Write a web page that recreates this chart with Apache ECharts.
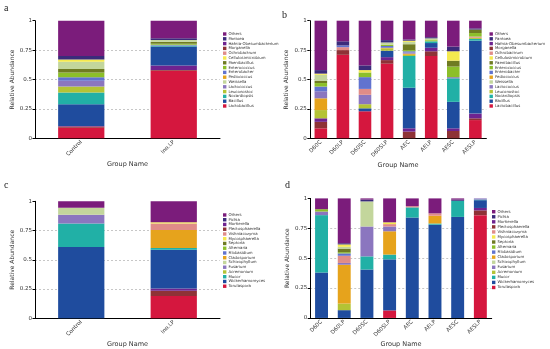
<!DOCTYPE html>
<html><head><meta charset="utf-8">
<script src="https://cdn.jsdelivr.net/npm/echarts@6/dist/echarts.min.js"></script>
<style>html,body{margin:0;padding:0;background:#fff}#c{width:550px;height:349px}</style>
</head><body><div id="c"></div>
<script>
// ---- categories ----
const catsA = ['Control', 'Ino.LP'];
const catsB = ['D60C', 'D60LP', 'D60SC', 'D60SLP', 'AEC', 'AELP', 'AESC', 'AESLP'];
const catsC = ['Control', 'Ino.LP'];
const catsD = ['D60C', 'D60LP', 'D60SC', 'D60SLP', 'AEC', 'AELP', 'AESC', 'AESLP'];
const yTicks = [0, 0.25, 0.5, 0.75, 1];

// ---- taxa (stack order, bottom -> top) ----
const bacteria = ['Lactobacillus','Morganella','Hafnia-Obesumbacterium','Bacillus','Nocardiopsis','Leuconostoc','Pediococcus','Lactococcus','Ochrobactrum','Enterobacter','Enterococcus','Paenibacillus','Weissella','Cellulosimicrobium','Pantoea','Others'];
const fungi = ['Torulaspora','Plectosphaerella','Mortierella','Wickerhamomyces','Mucor','Acremonium','Cladosporium','Fusarium','Vishniacozyma','Filobasidium','Alternaria','Septoria','Schizophyllum','Mycosphaerella','Pichia','Others'];
// legend order (top -> bottom)
const bacteriaLegend = ['Others','Pantoea','Hafnia-Obesumbacterium','Morganella','Ochrobactrum','Cellulosimicrobium','Paenibacillus','Enterococcus','Enterobacter','Pediococcus','Weissella','Lactococcus','Leuconostoc','Nocardiopsis','Bacillus','Lactobacillus'];
const fungiLegend = ['Others','Pichia','Mortierella','Plectosphaerella','Vishniacozyma','Mycosphaerella','Septoria','Alternaria','Filobasidium','Cladosporium','Schizophyllum','Fusarium','Acremonium','Mucor','Wickerhamomyces','Torulaspora'];

// ---- values: rows follow stack order, columns follow categories ----
const valuesA = [
  [0.09, 0.575], [0.01, 0.005], [0.005, 0.04], [0.185, 0.16], [0.10, 0.01], [0.05, 0],
  [0, 0], [0.05, 0.005], [0, 0], [0.03, 0], [0.04, 0.01], [0.03, 0.015],
  [0.06, 0.015], [0.02, 0], [0.03, 0.015], [0.30, 0.15]
];
const valuesB = [
  [0.085, 0.71, 0.23, 0.635, 0, 0.70, 0, 0.155],
  [0.055, 0.04, 0, 0.03, 0.057, 0.04, 0.062, 0.015],
  [0.03, 0, 0, 0.025, 0.028, 0.03, 0.023, 0.04],
  [0, 0, 0.025, 0.055, 0.345, 0.04, 0.225, 0.62],
  [0, 0, 0, 0, 0.27, 0.015, 0.20, 0.015],
  [0.07, 0, 0.035, 0.02, 0.01, 0.005, 0, 0.01],
  [0.10, 0, 0, 0.005, 0.01, 0, 0, 0],
  [0.06, 0, 0.08, 0, 0.01, 0, 0.01, 0],
  [0, 0.025, 0.05, 0, 0, 0, 0, 0.01],
  [0.04, 0.015, 0.10, 0.015, 0.01, 0, 0, 0],
  [0.03, 0, 0.04, 0.01, 0.01, 0.01, 0.09, 0.03],
  [0.02, 0, 0, 0, 0.05, 0, 0.05, 0.03],
  [0.05, 0, 0, 0.02, 0.02, 0.01, 0, 0],
  [0.01, 0, 0.02, 0, 0.01, 0, 0.08, 0],
  [0.03, 0.035, 0.04, 0.02, 0.01, 0.01, 0.04, 0.01],
  [0.42, 0.175, 0.38, 0.165, 0.16, 0.14, 0.22, 0.065]
];
const valuesC = [
  [0, 0.19], [0, 0.045], [0, 0.02], [0.61, 0.33], [0.20, 0.015], [0, 0],
  [0, 0.155], [0.075, 0], [0, 0.055], [0, 0], [0, 0], [0, 0],
  [0.06, 0], [0, 0.01], [0, 0], [0.055, 0.18]
];
const valuesD = [
  [0, 0, 0, 0.063, 0, 0, 0, 0.86],
  [0, 0, 0, 0, 0, 0, 0, 0.04],
  [0, 0, 0, 0, 0, 0, 0, 0.02],
  [0.38, 0.065, 0.405, 0.427, 0.84, 0.78, 0.845, 0.065],
  [0.48, 0, 0.11, 0.04, 0.085, 0.01, 0.135, 0.005],
  [0, 0.055, 0, 0, 0, 0, 0, 0],
  [0, 0.325, 0, 0.195, 0, 0.065, 0, 0],
  [0.03, 0.015, 0.25, 0.04, 0, 0, 0, 0.01],
  [0, 0.06, 0, 0.02, 0.01, 0.02, 0, 0],
  [0, 0.02, 0, 0, 0, 0, 0, 0],
  [0.02, 0.01, 0, 0, 0, 0, 0, 0],
  [0, 0.03, 0, 0, 0, 0, 0, 0],
  [0, 0.015, 0.21, 0, 0, 0, 0, 0],
  [0, 0.02, 0, 0.015, 0, 0, 0, 0],
  [0, 0.01, 0.015, 0, 0, 0, 0.01, 0],
  [0.09, 0.375, 0.01, 0.20, 0.065, 0.125, 0.01, 0]
];

// ---- styles ----
const palette = ['#d5173e','#8e3236','#6e2390','#1f4c9e','#21b0a6','#b4c335','#e6a31c','#8b76bf','#e08c88','#6173cf','#8cbf2a','#6f7b23','#c3d69c','#f4e94f','#3b2b7b','#7b1c7b'];
const FONT = 'DejaVu Sans';
const grids = [
  {left: 35, top: 20.7, width: 185, height: 117.6},
  {left: 309.8, top: 20.7, width: 176.6, height: 117.6},
  {left: 35, top: 201.3, width: 185, height: 117},
  {left: 310.2, top: 198.4, width: 181.5, height: 120.5}
];
const panels = [
  {cats: catsA, names: bacteria, legend: bacteriaLegend, vals: valuesA, barW: '50%', lg: {left: 223, top: 31.6, gap: 4.8}, letter: 'a', lx: 4, ly: 3},
  {cats: catsB, names: bacteria, legend: bacteriaLegend, vals: valuesB, barW: '57%', lg: {left: 489.5, top: 31.6, gap: 4.8}, letter: 'b', lx: 282, ly: 10},
  {cats: catsC, names: fungi, legend: fungiLegend, vals: valuesC, barW: '50%', lg: {left: 223, top: 212.6, gap: 4.75}, letter: 'c', lx: 4, ly: 180},
  {cats: catsD, names: fungi, legend: fungiLegend, vals: valuesD, barW: '57%', lg: {left: 492, top: 209.2, gap: 5.05}, letter: 'd', lx: 285, ly: 180}
];

const xAxis = [], yAxis = [], series = [], legend = [], graphic = [];
panels.forEach((p, i) => {
  xAxis.push({
    type: 'category', gridIndex: i, data: p.cats,
    axisLine: {lineStyle: {color: '#000', width: 1}},
    axisTick: {length: 2.5, lineStyle: {color: '#000'}},
    axisLabel: {rotate: 45, fontSize: 5.5, color: '#333', margin: 3, fontFamily: FONT},
    name: 'Group Name', nameLocation: 'middle', nameGap: 21,
    nameTextStyle: {fontSize: 6.5, color: '#333', fontFamily: FONT}
  });
  yAxis.push({
    type: 'value', gridIndex: i, min: 0, max: 1, interval: 0.25,
    axisLine: {show: true, lineStyle: {color: '#000', width: 1}},
    axisTick: {show: true, length: 2.5, lineStyle: {color: '#000'}},
    axisLabel: {fontSize: 5.5, color: '#333', margin: 3, fontFamily: FONT,
      formatter: v => String(yTicks.find(t => Math.abs(t - v) < 1e-9) ?? v)},
    splitLine: {show: true, showMinLine: false, showMaxLine: false,
      lineStyle: {type: [2, 2], color: '#b0b0b0', width: 0.7}},
    name: 'Relative Abundance', nameLocation: 'middle', nameGap: 20,
    nameTextStyle: {fontSize: 6, color: '#333', fontFamily: FONT}
  });
  p.names.forEach((n, k) => {
    series.push({
      type: 'bar', name: n, stack: 'p' + i, xAxisIndex: i, yAxisIndex: i,
      barWidth: p.barW, data: p.vals[k],
      itemStyle: {color: palette[k]}, emphasis: {disabled: true}
    });
  });
  legend.push({
    data: p.legend, orient: 'vertical', left: p.lg.left, top: p.lg.top,
    padding: 0, itemGap: 0, itemWidth: 3.4, itemHeight: 3.4, icon: 'rect',
    selectedMode: false,
    textStyle: {fontSize: 3.9, lineHeight: p.lg.gap, height: p.lg.gap, color: '#333', fontFamily: FONT, padding: [0, 0, 0, -3]}
  });
  graphic.push({type: 'text', left: p.lx, top: p.ly,
    style: {text: p.letter, font: '10px "Liberation Serif"', fill: '#222'}});
});

const chart = echarts.init(document.getElementById('c'), null, {renderer: 'canvas'});
chart.setOption({animation: false, backgroundColor: '#fff', grid: grids, xAxis, yAxis, series, legend, graphic});
</script>
</body></html>
